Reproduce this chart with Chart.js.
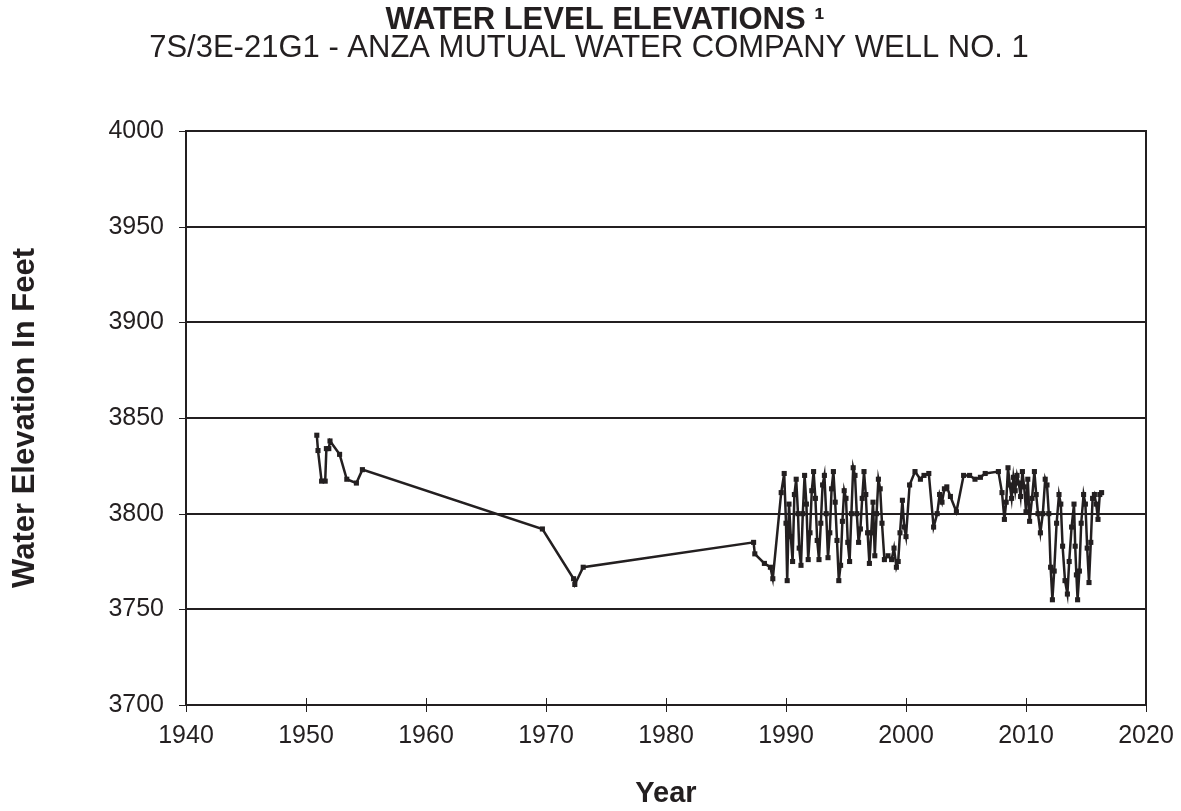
<!DOCTYPE html>
<html>
<head>
<meta charset="utf-8">
<title>Water Level Elevations</title>
<script src="https://cdn.jsdelivr.net/npm/chart.js@4.4.0/dist/chart.umd.min.js"></script>
<style>
  html, body { margin: 0; padding: 0; background: #fff; }
  #wrap { width: 1181px; height: 811px; }
</style>
</head>
<body>
<div id="wrap"><canvas id="levelChart" width="1181" height="811"></canvas></div>
<script>
const years = [
  1950.9, 1951.0, 1951.3, 1951.6, 1951.7, 1951.9, 1952.0, 1952.8, 1953.4, 1954.2, 1954.7,
  1969.7, 1972.3, 1972.4, 1973.1,
  1987.3, 1987.4, 1988.2, 1988.7, 1988.9, 1989.6, 1989.85,
  1990.0, 1990.1, 1990.25, 1990.4, 1990.55, 1990.7, 1990.85,
  1991.0, 1991.1, 1991.25, 1991.4, 1991.55, 1991.7, 1991.85,
  1992.0, 1992.15, 1992.3, 1992.45, 1992.6, 1992.75, 1992.9,
  1993.05, 1993.2, 1993.35, 1993.5, 1993.65, 1993.8, 1993.95,
  1994.1, 1994.25, 1994.4, 1994.55, 1994.7, 1994.85,
  1995.0, 1995.15, 1995.3, 1995.45, 1995.6, 1995.75, 1995.9,
  1996.05, 1996.2, 1996.35, 1996.5, 1996.65, 1996.8, 1996.95,
  1997.1, 1997.25, 1997.4, 1997.55, 1997.7, 1997.85,
  1998.0, 1998.2, 1998.5, 1998.8, 1999.0, 1999.2, 1999.35, 1999.5, 1999.7, 1999.85,
  2000.0, 2000.3, 2000.75, 2001.2, 2001.5, 2001.9, 2002.3, 2002.6, 2002.8,
  2003.0, 2003.2, 2003.4, 2003.7, 2004.2, 2004.8, 2005.3, 2005.75, 2006.2, 2006.6, 2007.7,
  2008.0, 2008.2, 2008.35, 2008.5, 2008.65, 2008.8, 2008.95,
  2009.1, 2009.25, 2009.4, 2009.55, 2009.7, 2009.85,
  2010.0, 2010.15, 2010.3, 2010.5, 2010.7, 2010.85,
  2011.0, 2011.2, 2011.4, 2011.6, 2011.75, 2011.9,
  2012.05, 2012.2, 2012.35, 2012.55, 2012.75, 2012.9,
  2013.05, 2013.25, 2013.45, 2013.6, 2013.8,
  2014.0, 2014.1, 2014.2, 2014.3, 2014.45, 2014.6, 2014.8, 2014.95,
  2015.1, 2015.25, 2015.4, 2015.55, 2015.7, 2015.85,
  2016.0, 2016.15, 2016.3
];

const levels = [
  3841, 3833, 3817, 3817, 3834, 3834, 3838, 3831, 3818, 3816, 3823,
  3792, 3766, 3763, 3772,
  3785, 3779, 3774, 3772, 3766, 3811, 3821,
  3795, 3765, 3805, 3788, 3775, 3810, 3818,
  3800, 3782, 3773, 3800, 3820, 3805, 3776,
  3790, 3812, 3822, 3808, 3786, 3776, 3795,
  3815, 3820, 3800, 3777, 3790, 3813, 3822,
  3806, 3786, 3765, 3773, 3796, 3812,
  3808, 3785, 3775, 3800, 3824, 3820, 3800,
  3785, 3792, 3808, 3822, 3810, 3790, 3774,
  3790, 3806, 3778, 3800, 3818, 3813,
  3795, 3776, 3778, 3776, 3782, 3772, 3775, 3790, 3807, 3793,
  3788, 3815, 3822, 3818, 3820, 3821, 3793, 3800, 3810,
  3806, 3813, 3814, 3809, 3801, 3820, 3820, 3818, 3819, 3821, 3822,
  3811, 3797, 3806, 3824, 3815, 3808, 3819,
  3812, 3820, 3816, 3809, 3822, 3814,
  3801, 3818, 3796, 3808, 3822, 3810,
  3800, 3790, 3800, 3818, 3815, 3800,
  3772, 3755, 3770, 3795, 3810, 3805,
  3783, 3765, 3758, 3775, 3793,
  3805, 3783, 3768, 3755, 3770, 3795, 3810, 3805,
  3782, 3764, 3785, 3808, 3810, 3805,
  3797, 3810, 3811
];

// Axis tick values
const yearTicks = [1940, 1950, 1960, 1970, 1980, 1990, 2000, 2010, 2020];
const elevationTicks = [3700, 3750, 3800, 3850, 3900, 3950, 4000];

const titleText = "WATER LEVEL ELEVATIONS \u00b9";
const subtitleText = "7S/3E-21G1 - ANZA MUTUAL WATER COMPANY WELL NO. 1";

const ink = "#231f20";
const fontFamily = "'Liberation Sans', Arial, sans-serif";
const points = years.map((yr, i) => ({ x: yr, y: levels[i] }));

// Two heading lines; the reference centres them a little right of the canvas middle
const headings = {
  id: "headings",
  afterDraw(chart) {
    const ctx = chart.ctx;
    ctx.save();
    ctx.fillStyle = ink;
    ctx.textAlign = "center";
    ctx.textBaseline = "middle";
    ctx.font = "bold 31px " + fontFamily;
    ctx.fillText(titleText, 605, 20);
    ctx.font = "31px " + fontFamily;
    ctx.fillText(subtitleText, 589, 48);
    ctx.restore();
  },
};

// Draws the box around the plot and the small ticks that cross the axes
const frameAndTicks = {
  id: "frameAndTicks",
  afterDraw(chart) {
    const { ctx, chartArea: a, scales } = chart;
    ctx.save();
    ctx.strokeStyle = ink;
    ctx.lineWidth = 1;
    yearTicks.forEach((t) => {
      const px = Math.round(scales.x.getPixelForValue(t)) + 0.5;
      ctx.beginPath();
      ctx.moveTo(px, a.bottom - 7);
      ctx.lineTo(px, a.bottom + 7);
      ctx.stroke();
    });
    elevationTicks.forEach((t) => {
      const py = Math.round(scales.y.getPixelForValue(t)) + 0.5;
      ctx.beginPath();
      ctx.moveTo(a.left - 7, py);
      ctx.lineTo(a.left, py);
      ctx.stroke();
    });
    ctx.lineWidth = 2;
    ctx.strokeRect(a.left, a.top, a.right - a.left, a.bottom - a.top);
    ctx.restore();
  },
};

new Chart(document.getElementById("levelChart"), {
  type: "line",
  data: {
    datasets: [
      {
        data: points,
        borderColor: ink,
        backgroundColor: ink,
        borderWidth: 2.5,
        pointStyle: "rect",
        pointRadius: 3.6,
        pointBorderWidth: 0,
        tension: 0,
      },
    ],
  },
  options: {
    responsive: false,
    animation: false,
    layout: { padding: { left: 0, right: 35, top: 131, bottom: 0 } },
    plugins: {
      legend: { display: false },
      tooltip: { enabled: false },
    },
    scales: {
      x: {
        type: "linear",
        min: 1940,
        max: 2020,
        afterFit: (s) => {
          s.height = 106;
          s.paddingLeft = 0;
          s.paddingRight = 0;
        },
        afterBuildTicks: (s) => { s.ticks = yearTicks.map((v) => ({ value: v })); },
        grid: { drawOnChartArea: false, drawTicks: false },
        border: { color: ink, width: 2 },
        ticks: {
          color: ink,
          padding: 16,
          maxRotation: 0,
          font: { family: fontFamily, size: 25 },
          callback: (v) => String(v),
        },
        title: {
          display: true,
          text: "Year",
          color: ink,
          font: { family: fontFamily, size: 29, weight: "bold" },
          padding: { top: 0, bottom: 0 },
        },
      },
      y: {
        min: 3700,
        max: 4000,
        afterFit: (s) => {
          s.width = 186;
          s.paddingTop = 0;
          s.paddingBottom = 0;
        },
        afterBuildTicks: (s) => { s.ticks = elevationTicks.map((v) => ({ value: v })); },
        grid: { color: ink, lineWidth: 2, drawTicks: false },
        border: { color: ink, width: 2 },
        ticks: {
          color: ink,
          padding: 22,
          font: { family: fontFamily, size: 25 },
          callback: (v) => String(v),
        },
        title: {
          display: true,
          text: "Water Elevation In Feet",
          color: ink,
          font: { family: fontFamily, size: 31, weight: "bold" },
          padding: { top: 7, bottom: 0 },
        },
      },
    },
  },
  plugins: [frameAndTicks, headings],
});
</script>
</body>
</html>
